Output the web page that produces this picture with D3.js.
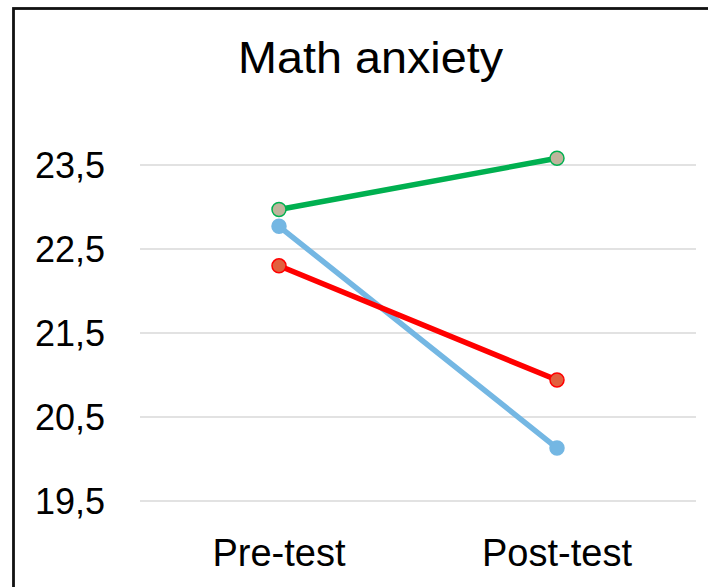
<!DOCTYPE html>
<html lang="en">

<head>
    <title>Math anxiety</title>
    <meta charset="utf-8">
    <script src="https://d3js.org/d3.v7.min.js"></script>
    <style>
        body { margin: 0; background: #fff; }
        svg { display: block; font-family: "Liberation Sans", Arial, sans-serif; }
    </style>
</head>

<body>
    <div id="chart"></div>
    <script>
        // Data
        const categories = ["Pre-test", "Post-test"];
        const seriesNames = ["Group A", "Group B", "Group C"];
        const greenValues = [22.97, 23.58];
        const blueValues = [22.77, 20.13];
        const redValues = [22.30, 20.94];
        const yTicks = [19.5, 20.5, 21.5, 22.5, 23.5];

        const series = [
            { name: seriesNames[0], values: greenValues, line: "#00b050", fill: "#bfb49c", stroke: "#00b050" },
            { name: seriesNames[1], values: blueValues, line: "#74b7e3", fill: "#74b7e3", stroke: "#74b7e3" },
            { name: seriesNames[2], values: redValues, line: "#ff0000", fill: "#e2603e", stroke: "#ff0000" }
        ];

        const W = 708, H = 587;
        const svg = d3.select("#chart").append("svg")
            .attr("width", W)
            .attr("height", H);

        // Chart border (runs off right and bottom)
        svg.append("rect")
            .attr("x", 13.5)
            .attr("y", 8.5)
            .attr("width", 720)
            .attr("height", 600)
            .attr("fill", "none")
            .attr("stroke", "#111")
            .attr("stroke-width", 2.8);

        // Scales
        const xScale = d3.scaleBand()
            .domain(categories)
            .range([140, 696]);

        const yScale = d3.scaleLinear()
            .domain([19.5, 23.5])
            .range([501, 165]);

        const cx = d => xScale(d) + xScale.bandwidth() / 2;

        // Gridlines
        svg.append("g")
            .selectAll("line")
            .data(yTicks)
            .join("line")
            .attr("x1", 140)
            .attr("x2", 696)
            .attr("y1", d => yScale(d))
            .attr("y2", d => yScale(d))
            .attr("stroke", "#d9d9d9")
            .attr("stroke-width", 1.5);

        // Y axis labels
        const fmt = d => d3.format(".1f")(d).replace(".", ",");
        svg.append("g")
            .selectAll("text")
            .data(yTicks)
            .join("text")
            .attr("x", 105)
            .attr("y", d => yScale(d))
            .attr("dy", "0.35em")
            .attr("text-anchor", "end")
            .style("font-size", "36px")
            .style("fill", "#000")
            .text(fmt);

        // X axis labels
        svg.append("g")
            .selectAll("text")
            .data(categories)
            .join("text")
            .attr("x", d => cx(d))
            .attr("y", 566)
            .attr("text-anchor", "middle")
            .style("font-size", "38px")
            .style("fill", "#000")
            .text(d => d);

        // Title
        svg.append("text")
            .attr("x", 370.5)
            .attr("y", 73)
            .attr("text-anchor", "middle")
            .attr("textLength", 265)
            .attr("lengthAdjust", "spacingAndGlyphs")
            .style("font-size", "45px")
            .style("fill", "#000")
            .text("Math anxiety");

        // Lines and markers
        const line = d3.line()
            .x((d, i) => cx(categories[i]))
            .y(d => yScale(d));

        const groups = svg.append("g")
            .selectAll("g")
            .data(series)
            .join("g");

        groups.append("path")
            .attr("d", d => line(d.values))
            .attr("fill", "none")
            .attr("stroke", d => d.line)
            .attr("stroke-width", 5.5)
            .attr("stroke-linecap", "round");

        groups.each(function (s) {
            d3.select(this).selectAll("circle")
                .data(s.values)
                .join("circle")
                .attr("cx", (d, i) => cx(categories[i]))
                .attr("cy", d => yScale(d))
                .attr("r", 7)
                .attr("fill", s.fill)
                .attr("stroke", s.stroke)
                .attr("stroke-width", 1.5);
        });
    </script>
</body>

</html>
